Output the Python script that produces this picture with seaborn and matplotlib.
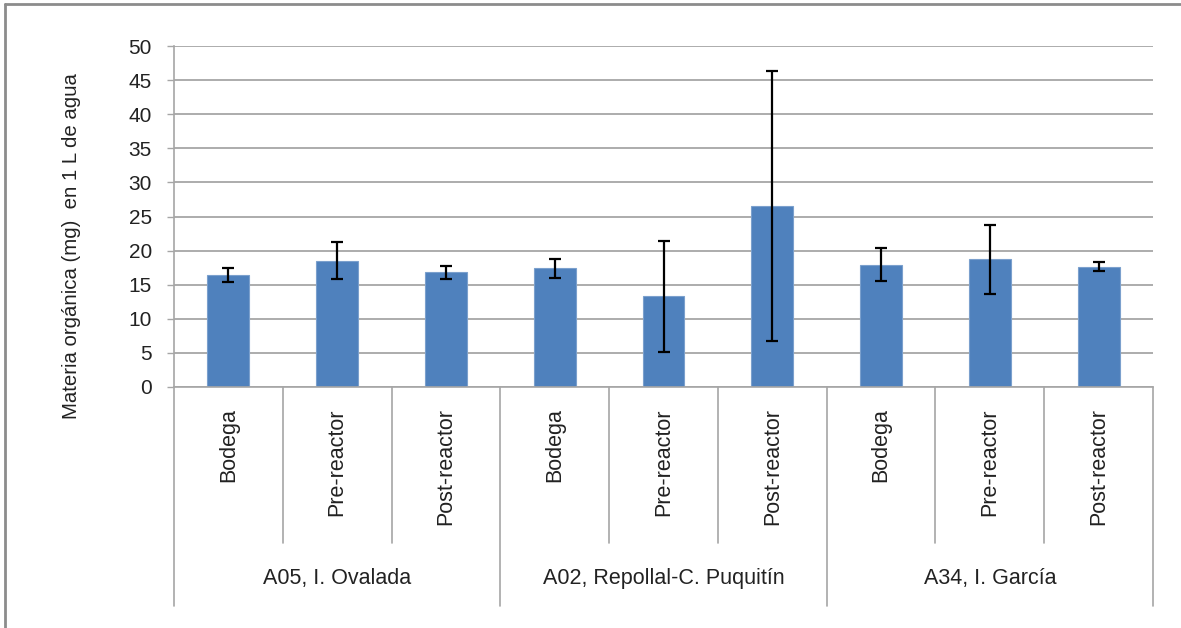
import pandas as pd
import matplotlib.pyplot as plt
import seaborn as sns

# Values
grupos = ['A05, I. Ovalada', 'A02, Repollal-C. Puquitín', 'A34, I. García']
puntos = ['Bodega', 'Pre-reactor', 'Post-reactor']
media_a05 = [16.4, 18.5, 16.8]
media_a02 = [17.4, 13.3, 26.6]
media_a34 = [17.95, 18.7, 17.65]
error_a05 = [1.0, 2.7, 1.0]
error_a02 = [1.35, 8.15, 19.8]
error_a34 = [2.45, 5.1, 0.65]

rows = []
for g, medias, errores in zip(grupos, [media_a05, media_a02, media_a34],
                              [error_a05, error_a02, error_a34]):
    for p, m, e in zip(puntos, medias, errores):
        rows.append({'grupo': g, 'punto': p, 'clave': g + ' / ' + p,
                     'mg': m, 'err': e})
df = pd.DataFrame(rows)

sns.set_style('white')
plt.rcParams['font.family'] = ['Liberation Sans', 'DejaVu Sans']

W, H = 1181, 628
fig = plt.figure(figsize=(W / 100, H / 100), dpi=100)
ax = fig.add_axes([174 / W, 1 - 387 / H, (1153 - 174) / W, (387 - 46) / H])

sns.barplot(data=df, x='clave', y='mg', color='#4F81BD', width=0.385,
            saturation=1, edgecolor='#7BA0CD', linewidth=0.8, ax=ax)
ax.errorbar(range(len(df)), df['mg'], yerr=df['err'], fmt='none',
            ecolor='black', elinewidth=1.6, capsize=4.3, capthick=1.6, zorder=5)

ax.set_xlim(-0.5, len(df) - 0.5)
ax.set_ylim(0, 50)
ax.set_yticks(range(0, 51, 5))
ax.yaxis.grid(True, color='#A6A6A6', linewidth=1.3)
ax.set_axisbelow(True)
ax.tick_params(axis='y', left=True, length=5, width=1, color='#A6A6A6',
               pad=11, labelsize=15, labelcolor='#222222')
ax.tick_params(axis='x', bottom=False, labelbottom=False)
ax.set_xlabel('')
ax.set_ylabel('')
for s in ['top', 'right']:
    ax.spines[s].set_visible(False)
for s in ['left', 'bottom']:
    ax.spines[s].set_color('#A6A6A6')
    ax.spines[s].set_linewidth(1.2)

# Two-level category axis below the plot
tr = ax.get_xaxis_transform()
n = len(df)
for i in range(n + 1):
    x = i - 0.5
    low = -0.642 if i % 3 == 0 else -0.457
    ax.plot([x, x], [0, low], transform=tr, color='#A6A6A6', lw=1.2,
            clip_on=False)
for i, p in enumerate(df['punto']):
    ax.text(i, -0.062, p, transform=tr, rotation=90, ha='center', va='top',
            fontsize=15.5, color='#222222')
for j, g in enumerate(grupos):
    ax.text(3 * j + 1, -0.563, g, transform=tr, ha='center', va='center',
            fontsize=15.5, color='#222222')

fig.text(72 / W, 1 - 246 / H, 'Materia orgánica (mg)  en 1 L de agua',
         rotation=90, ha='center', va='center', fontsize=14.7, color='#222222')

# Outer chart border
fig.add_artist(plt.Line2D([5 / W, 1], [1 - 4 / H, 1 - 4 / H], color='#8C8C8C',
                          lw=2, transform=fig.transFigure))
fig.add_artist(plt.Line2D([5 / W, 5 / W], [0, 1 - 4 / H], color='#8C8C8C',
                          lw=2, transform=fig.transFigure))

plt.savefig('out.png', dpi=100)
